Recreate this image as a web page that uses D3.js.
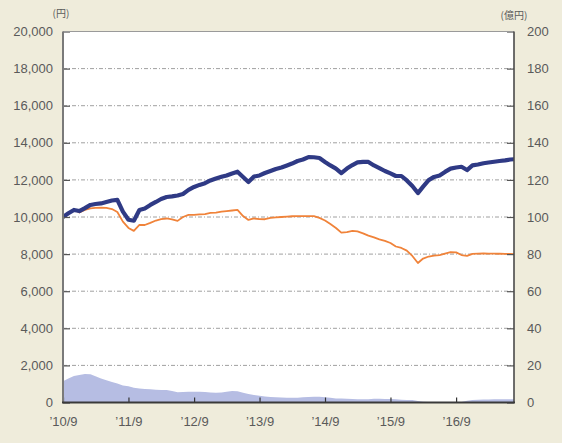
<!DOCTYPE html>
<html>
<head>
<meta charset="utf-8">
<script src="https://cdn.jsdelivr.net/npm/d3@7"></script>
<style>
  html, body { margin: 0; padding: 0; background: #efecdb; }
  svg { display: block; }
  text { font-family: "Liberation Sans Narrow", "Arial Narrow", "Liberation Sans", sans-serif; fill: #5a5a5a; }
</style>
</head>
<body>
<svg id="chart" width="562" height="443"></svg>
<script>
// Monthly series, Sep 2010 – Aug 2017
const firstMonth = new Date(2010, 8, 1);
const lastMonth = new Date(2017, 7, 1);

// NAV with distributions reinvested (円, left axis)
const navReinvested = [
  10000, 10200, 10380, 10320, 10480, 10650, 10700, 10730, 10810, 10890, 10920,
  10290, 9850, 9800, 10380, 10460, 10650, 10810, 10970, 11080, 11110, 11160,
  11240, 11460, 11620, 11730, 11820, 11970, 12080, 12170, 12240, 12350, 12440,
  12160, 11890, 12180, 12240, 12370, 12480, 12590, 12670, 12780, 12880, 13020,
  13100, 13230, 13220, 13180, 12970, 12780, 12610, 12370, 12610, 12800, 12940,
  12970, 12970, 12780, 12640, 12480, 12350, 12210, 12210, 11970, 11670, 11290,
  11640, 11990, 12160, 12240, 12430, 12610, 12670, 12710, 12530, 12780, 12830,
  12900, 12940, 12980, 13020, 13050, 13100, 13120
];

// NAV (円, left axis)
const nav = [
  10000, 10220, 10400, 10240, 10380, 10470, 10490, 10510, 10490, 10430, 10270,
  9750, 9410, 9250, 9570, 9570, 9680, 9810, 9890, 9920, 9870, 9790,
  10000, 10110, 10110, 10140, 10160, 10220, 10240, 10290, 10320, 10350, 10380,
  10050, 9840, 9920, 9890, 9880, 9950, 9980, 10000, 10020, 10040, 10050,
  10050, 10050, 10050, 9950, 9810, 9620, 9410, 9160, 9190, 9250, 9220,
  9120, 9000, 8900, 8790, 8710, 8600, 8410, 8330, 8190, 7900, 7520,
  7760, 7870, 7920, 7950, 8030, 8110, 8090, 7950, 7900, 8010, 8030,
  8040, 8030, 8030, 8020, 8010, 8010, 8000
];

// Net assets (億円, right axis)
const netAssets = [
  11.5, 13, 14.3, 14.8, 15.3, 15.2, 14.2, 13, 12, 11, 10.2,
  9.2, 8.8, 8, 7.6, 7.3, 7.1, 6.9, 6.8, 6.7, 6.2, 5.5,
  5.6, 5.8, 5.8, 5.8, 5.6, 5.4, 5.3, 5.4, 5.8, 6.2, 6.0,
  5.3, 4.6, 4.0, 3.6, 3.2, 3.0, 2.8, 2.7, 2.6, 2.6, 2.6,
  2.8, 3.0, 3.1, 3.1, 2.8, 2.5, 2.2, 2.1, 2.0, 1.9, 1.8,
  1.7, 1.8, 2.0, 2.0, 1.9, 1.9, 1.7, 1.5, 1.4, 1.3, 0.8,
  0.4, 0.3, 0.3, 0.3, 0.3, 0.3, 0.3, 0.3, 1.0, 1.3, 1.5,
  1.6, 1.6, 1.7, 1.7, 1.7, 1.7, 1.7
];

const leftTicks = [0, 2000, 4000, 6000, 8000, 10000, 12000, 14000, 16000, 18000, 20000];
const rightTicks = [0, 20, 40, 60, 80, 100, 120, 140, 160, 180, 200];
const xTickDates = [
  new Date(2010, 8, 1), new Date(2011, 8, 1), new Date(2012, 8, 1), new Date(2013, 8, 1),
  new Date(2014, 8, 1), new Date(2015, 8, 1), new Date(2016, 8, 1)
];
const xTickLabels = ["’10/9", "’11/9", "’12/9", "’13/9", "’14/9", "’15/9", "’16/9"];
const leftUnit = "(円)";
const rightUnit = "(億円)";

const months = d3.timeMonth.range(firstMonth, d3.timeMonth.offset(lastMonth, 1));

const plot = { left: 63, right: 514, top: 31.5, bottom: 402.5 };

const svg = d3.select("#chart");

const x = d3.scaleTime().domain([firstMonth, lastMonth]).range([plot.left, 516]);
const yL = d3.scaleLinear().domain([0, 20000]).range([plot.bottom, plot.top]);
const yR = d3.scaleLinear().domain([0, 200]).range([plot.bottom, plot.top]);

svg.append("defs").append("clipPath").attr("id", "plotClip")
  .append("rect")
  .attr("x", plot.left).attr("y", plot.top)
  .attr("width", plot.right - plot.left).attr("height", plot.bottom - plot.top);

// plot background
svg.append("rect")
  .attr("x", plot.left).attr("y", plot.top)
  .attr("width", plot.right - plot.left).attr("height", plot.bottom - plot.top)
  .attr("fill", "#ffffff");

// horizontal gridlines
const grid = svg.append("g");
grid.selectAll("line.grid")
  .data(leftTicks.filter(d => d > 0 && d < 20000))
  .join("line")
  .attr("x1", plot.left).attr("x2", plot.right)
  .attr("y1", d => yL(d)).attr("y2", d => yL(d))
  .attr("stroke", "#a0a0a0").attr("stroke-width", 1)
  .attr("stroke-dasharray", "4,2,1,2");

const series = svg.append("g").attr("clip-path", "url(#plotClip)");

// net assets area
const area = d3.area()
  .x((d, i) => x(months[i]))
  .y0(yR(0))
  .y1(d => yR(d));
series.append("path")
  .datum(netAssets)
  .attr("d", area)
  .attr("fill", "#b6bde3");

// NAV line
const lineL = d3.line()
  .x((d, i) => x(months[i]))
  .y(d => yL(d));
series.append("path")
  .datum(nav)
  .attr("d", lineL)
  .attr("fill", "none")
  .attr("stroke", "#f0833a")
  .attr("stroke-width", 1.8)
  .attr("stroke-linejoin", "round");

// reinvested NAV line
series.append("path")
  .datum(navReinvested)
  .attr("d", lineL)
  .attr("fill", "none")
  .attr("stroke", "#2f3a85")
  .attr("stroke-width", 4.2)
  .attr("stroke-linejoin", "round");

// left axis
const axisL = d3.axisLeft(yL).tickValues(leftTicks).tickSize(-7).tickPadding(10)
  .tickFormat(d3.format(","));
const gL = svg.append("g").attr("transform", `translate(${plot.left},0)`).call(axisL);
gL.select(".domain").remove();
gL.selectAll(".tick line").attr("stroke", "#555").attr("stroke-width", 1.2);
gL.selectAll(".tick text").attr("font-size", 13).attr("fill", "#5a5a5a")
  .style("font-family", "'Liberation Sans Narrow','Arial Narrow',sans-serif");

// right axis
const axisR = d3.axisRight(yR).tickValues(rightTicks).tickSize(-7).tickPadding(13);
const gR = svg.append("g").attr("transform", `translate(${plot.right},0)`).call(axisR);
gR.select(".domain").remove();
gR.selectAll(".tick line").attr("stroke", "#555").attr("stroke-width", 1.2);
gR.selectAll(".tick text").attr("font-size", 13).attr("fill", "#5a5a5a")
  .style("font-family", "'Liberation Sans Narrow','Arial Narrow',sans-serif");

// bottom axis
const axisB = d3.axisBottom(x).tickValues(xTickDates).tickSize(-5).tickPadding(14)
  .tickFormat((d, i) => xTickLabels[i]);
const gB = svg.append("g").attr("transform", `translate(0,${plot.bottom})`).call(axisB);
gB.select(".domain").remove();
gB.selectAll(".tick line").attr("stroke", "#333").attr("stroke-width", 1.2);
gB.selectAll(".tick text").attr("font-size", 13).attr("fill", "#5a5a5a")
  .style("font-family", "'Liberation Sans Narrow','Arial Narrow',sans-serif");

// frame lines
svg.append("line").attr("x1", plot.left).attr("x2", plot.right)
  .attr("y1", plot.top).attr("y2", plot.top)
  .attr("stroke", "#9a9a9a").attr("stroke-width", 1.2);
svg.append("line").attr("x1", plot.left).attr("x2", plot.left)
  .attr("y1", plot.top).attr("y2", plot.bottom)
  .attr("stroke", "#7a7a7a").attr("stroke-width", 2);
svg.append("line").attr("x1", plot.right).attr("x2", plot.right)
  .attr("y1", plot.top).attr("y2", plot.bottom)
  .attr("stroke", "#4a4a4a").attr("stroke-width", 1.6);
svg.append("line").attr("x1", plot.left - 1).attr("x2", plot.right + 1)
  .attr("y1", plot.bottom).attr("y2", plot.bottom)
  .attr("stroke", "#3a3a3a").attr("stroke-width", 2);

// unit labels
svg.append("text").attr("x", 61).attr("y", 17).attr("text-anchor", "middle")
  .attr("font-size", 10).text(leftUnit)
  .style("font-family", "'Noto Sans CJK JP',sans-serif");
svg.append("text").attr("x", 514).attr("y", 19).attr("text-anchor", "middle")
  .attr("font-size", 10).text(rightUnit)
  .style("font-family", "'Noto Sans CJK JP',sans-serif");
</script>
</body>
</html>
